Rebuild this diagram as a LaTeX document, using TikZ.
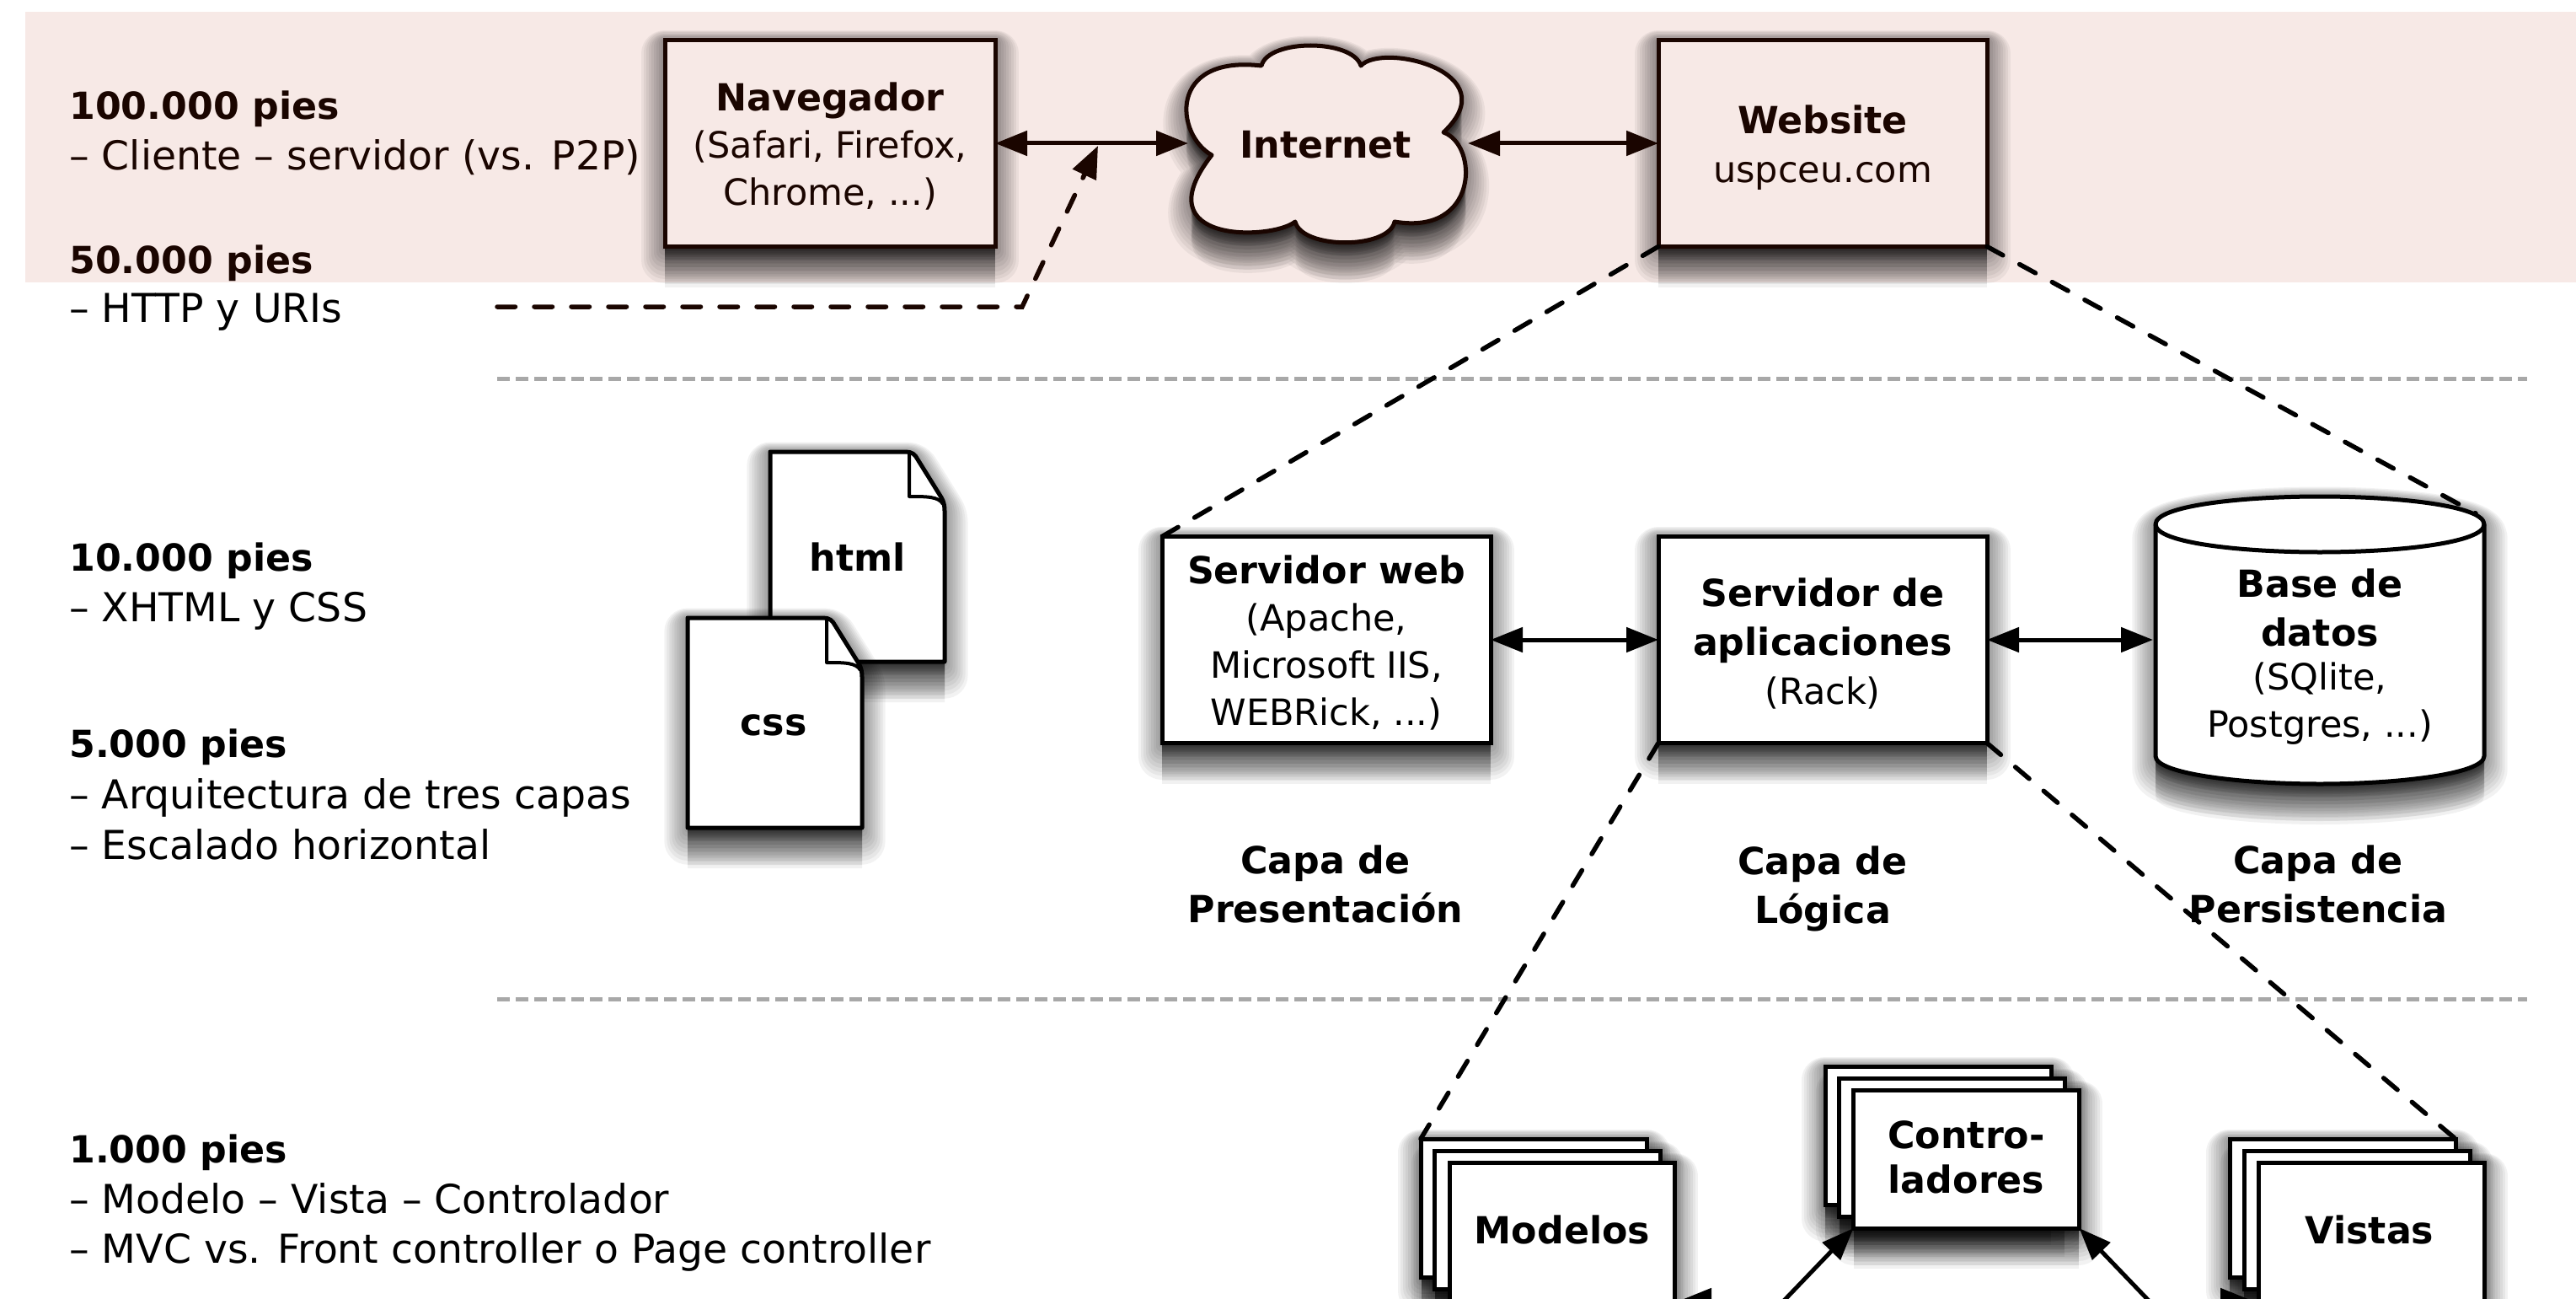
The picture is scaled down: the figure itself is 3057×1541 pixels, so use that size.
\documentclass[tikz,border=0pt]{standalone}
\usepackage{fontspec}
\setmainfont{DejaVu Sans}
\usetikzlibrary{arrows.meta}
\definecolor{bandc}{HTML}{F7E9E6}
\definecolor{inkc}{HTML}{1A0500}
\definecolor{sepc}{HTML}{A8A8A8}
\newcommand{\fT}{\fontsize{44.3}{56}\selectfont\bfseries}
\newcommand{\fS}{\fontsize{43}{56}\selectfont}
\newcommand{\fL}{\fontsize{47.3}{60}\selectfont}
\tikzset{
  shl/.style={preaction={draw=black,fill=black,opacity=.05,line width=1.2*#1,line join=round,transform canvas={yshift=-.35*#1}}},
  shf/.style={preaction={fill=black,opacity=.055,transform canvas={yshift=-#1}}},
  softshadow/.style={shl=46pt,shl=41pt,shl=36pt,shl=31pt,shl=26pt,shl=21pt,shl=16pt,shl=11pt,shl=6pt,
    shf=48pt,shf=44pt,shf=40pt,shf=36pt,shf=32pt,shf=28pt,shf=24pt,shf=20pt,shf=16pt,shf=12pt,shf=8pt,shf=4pt},
  plainbox/.style={rectangle,draw=black,fill=white,line width=5pt,outer sep=0pt,inner sep=0pt,align=center,font=\fS},
  box/.style={plainbox,softshadow},
  bandbox/.style={box,draw=inkc,fill=bandc,text=inkc},
  shapeline/.style={draw=black,fill=white,line width=5pt,line join=round,softshadow},
  lbl/.style={anchor=base west,inner sep=0pt,align=left},
  txt/.style={inner sep=0pt,align=center},
  both/.style={line width=5pt,{Triangle[length=38pt,width=29pt]}-{Triangle[length=38pt,width=29pt]}},
  single/.style={line width=5pt,-{Triangle[length=38pt,width=29pt]}},
  dashline/.style={line width=5.5pt,line cap=round,dash pattern=on 21.5pt off 22.5pt},
  sepline/.style={draw=sepc,line width=5pt,dash pattern=on 15pt off 7pt},
}
\begin{document}
\begin{tikzpicture}[x=1pt,y=-1pt]
\useasboundingbox (0,0) rectangle (3057,1541);
\clip (0,0) rectangle (3057,1541);
\fill[bandc] (30,14) rectangle (3057,335);

% separators
\coordinate (s1a) at (590,449); \coordinate (s1b) at (2999,449);
\coordinate (s2a) at (590,1185); \coordinate (s2b) at (2999,1185);
\draw[sepline] (s1a) -- (s1b);
\draw[sepline] (s2a) -- (s2b);

% left labels
\node[lbl,text=inkc,font=\fT] (t1) at (82,142) {100.000 pies};
\node[lbl,text=inkc,font=\fL] (t2) at (82,202) {– Cliente – servidor (vs. P2P)};
\node[lbl,text=inkc,font=\fT] (t3) at (82,324) {50.000 pies};
\node[lbl,font=\fL] (t4) at (82,382) {– HTTP y URIs};
\node[lbl,font=\fT] (t5) at (82,677) {10.000 pies};
\node[lbl,font=\fL] (t6) at (82,737) {– XHTML y CSS};
\node[lbl,font=\fT] (t7) at (82,898) {5.000 pies};
\node[lbl,font=\fL] (t8) at (82,959) {– Arquitectura de tres capas};
\node[lbl,font=\fL] (t9) at (82,1019) {– Escalado horizontal};
\node[lbl,font=\fT] (t10) at (82,1379) {1.000 pies};
\node[lbl,font=\fL] (t11) at (82,1439) {– Modelo – Vista – Controlador};
\node[lbl,font=\fL] (t12) at (82,1498) {– MVC vs. Front controller o Page controller};

% top row
\node[bandbox,minimum width=392pt,minimum height=245pt] (nav) at (985,170) {};
\node[txt,text=inkc,font=\fS] (navt) at (985,174) {{\fT Navegador}\\(Safari, Firefox,\\Chrome, ...)};
\path[shapeline,draw=inkc,fill=bandc]
  (1497,78) .. controls (1505,46) and (1605,46) .. (1615,78)
  .. controls (1640,50) and (1790,85) .. (1713,157)
  .. controls (1755,172) and (1755,280) .. (1655,263)
  .. controls (1648,296) and (1545,296) .. (1537,263)
  .. controls (1510,285) and (1355,290) .. (1438,184)
  .. controls (1395,160) and (1385,65) .. cycle;
\node[txt,text=inkc,font=\fT] (inet) at (1573,172) {Internet};
\coordinate (inetW) at (1410,170);
\coordinate (inetE) at (1742,170);
\node[bandbox,minimum width=390pt,minimum height=245pt] (web) at (2163,170) {};
\node[txt,text=inkc,font=\fS] (webt) at (2163,175) {{\fT Website}\\[2pt]uspceu.com};

% middle row
\path[shapeline] (914,536) -- (1075,536) .. controls (1082,536) and (1086,539) .. (1089,545)
  -- (1117,590) .. controls (1120,595) and (1121,600) .. (1121,606) -- (1121,785) -- (914,785) -- cycle;
\draw[line width=4pt,line join=round] (1079,538) -- (1079,589) .. controls (1100,589) and (1114,589) .. (1119,598);
\node[txt,font=\fT] (html) at (1018,661) {html};
\path[shapeline] (816,733) -- (977,733) .. controls (984,733) and (988,736) .. (991,742)
  -- (1019,787) .. controls (1022,792) and (1023,797) .. (1023,803) -- (1023,982) -- (816,982) -- cycle;
\draw[line width=4pt,line join=round] (981,735) -- (981,786) .. controls (1002,786) and (1016,786) .. (1021,795);
\node[txt,font=\fT] (css) at (918,860) {css};

\node[box,minimum width=390pt,minimum height=245pt] (srv) at (1574,759) {};
\node[txt,font=\fS] (srvt) at (1574,762) {{\fT Servidor web}\\(Apache,\\Microsoft IIS,\\WEBRick, ...)};
\node[box,minimum width=390pt,minimum height=245pt] (app) at (2163,759) {};
\node[txt,font=\fS] (appt) at (2163,763) {{\fT Servidor de}\\[2pt]{\fT aplicaciones}\\[2pt](Rack)};

\path[shapeline] (2558,622) -- (2558,897) .. controls (2558,918) and (2660,930) .. (2753,930)
  .. controls (2846,930) and (2948,918) .. (2948,897) -- (2948,622)
  .. controls (2948,600) and (2846,589) .. (2753,589)
  .. controls (2660,589) and (2558,600) .. cycle;
\draw[line width=5pt] (2558,622) .. controls (2558,644) and (2660,655) .. (2753,655)
  .. controls (2846,655) and (2948,644) .. (2948,622);
\node[txt,font=\fT] (dbt) at (2753,721) {Base de\\[2pt]datos};
\node[txt,font=\fS] (dbs) at (2753,835) {(SQlite,\\Postgres, ...)};
\coordinate (dbW) at (2555,759);
\coordinate (dbNE) at (2938,609);

\node[txt,font=\fT] (c1) at (1573,1049) {Capa de\\[2pt]Presentación};
\node[txt,font=\fT] (c2) at (2163,1054) {Capa de\\[2pt]Lógica};
\node[txt,font=\fT] (c3) at (2751,1049) {Capa de\\[2pt]Persistencia};

% stacks: one soft shadow under the three sheets of each
\path[softshadow] (1687,1351) rectangle (1954,1515);
\path[softshadow] (1703,1365) rectangle (1970,1529);
\path[softshadow] (1720,1379) rectangle (1987,1543);
\path[softshadow] (2166,1265) rectangle (2434,1429);
\path[softshadow] (2183,1279) rectangle (2450,1443);
\path[softshadow] (2200,1293) rectangle (2467,1457);
\path[softshadow] (2646,1351) rectangle (2914,1515);
\path[softshadow] (2663,1365) rectangle (2931,1529);
\path[softshadow] (2680,1379) rectangle (2948,1543);
\node[plainbox,minimum width=268pt,minimum height=164pt] (m1) at (1820,1433) {};
\node[plainbox,minimum width=268pt,minimum height=164pt] (m2) at (1836.5,1447) {};
\node[plainbox,minimum width=267pt,minimum height=164pt] (m3) at (1854,1461) {};
\node[txt,font=\fT] (m3t) at (1854,1459) {Modelos};
\node[plainbox,minimum width=268pt,minimum height=164pt] (k1) at (2300,1347) {};
\node[plainbox,minimum width=268pt,minimum height=164pt] (k2) at (2316.5,1361) {};
\node[plainbox,minimum width=268pt,minimum height=164pt] (k3) at (2333.5,1375) {};
\node[txt,font=\fontsize{44.3}{53}\selectfont\bfseries] (k3t) at (2333.5,1373) {Contro-\\ladores};
\node[plainbox,minimum width=268pt,minimum height=164pt] (v1) at (2780,1433) {};
\node[plainbox,minimum width=268pt,minimum height=164pt] (v2) at (2797,1447) {};
\node[plainbox,minimum width=268pt,minimum height=164pt] (v3) at (2814,1461) {};
\node[txt,font=\fT] (v3t) at (2812,1459) {Vistas};

% connectors
\draw[both,color=inkc] (nav.east) -- (inetW);
\draw[both,color=inkc] (inetE) -- (web.west);
\draw[both] (srv.east) -- (app.west);
\draw[both] (app.east) -- (dbW);
\coordinate (lab) at (590,364);
\coordinate (bend) at (1213,364);
\coordinate (tipA) at (1303,173);
\draw[dashline,color=inkc,-{Triangle[length=38pt,width=30pt]}] (lab) -- (bend) -- (tipA);
\draw[dashline] (web.south west) -- (srv.north west);
\draw[dashline] (web.south east) -- (dbNE);
\draw[dashline] (app.south west) -- (m1.north west);
\draw[dashline] (app.south east) -- (v1.north east);
\coordinate (b1) at (2115,1545);
\coordinate (b2) at (2552,1545);
\draw[single] (b1) -- (k3.south west);
\draw[single] (b2) -- (k3.south east);
\coordinate (b3) at (2080,1543);
\coordinate (b4) at (2600,1543);
\coordinate (t3a) at (1993,1543);
\coordinate (t4a) at (2673,1543);
\draw[single] (b3) -- (t3a);
\draw[single] (b4) -- (t4a);
\end{tikzpicture}
\end{document}
